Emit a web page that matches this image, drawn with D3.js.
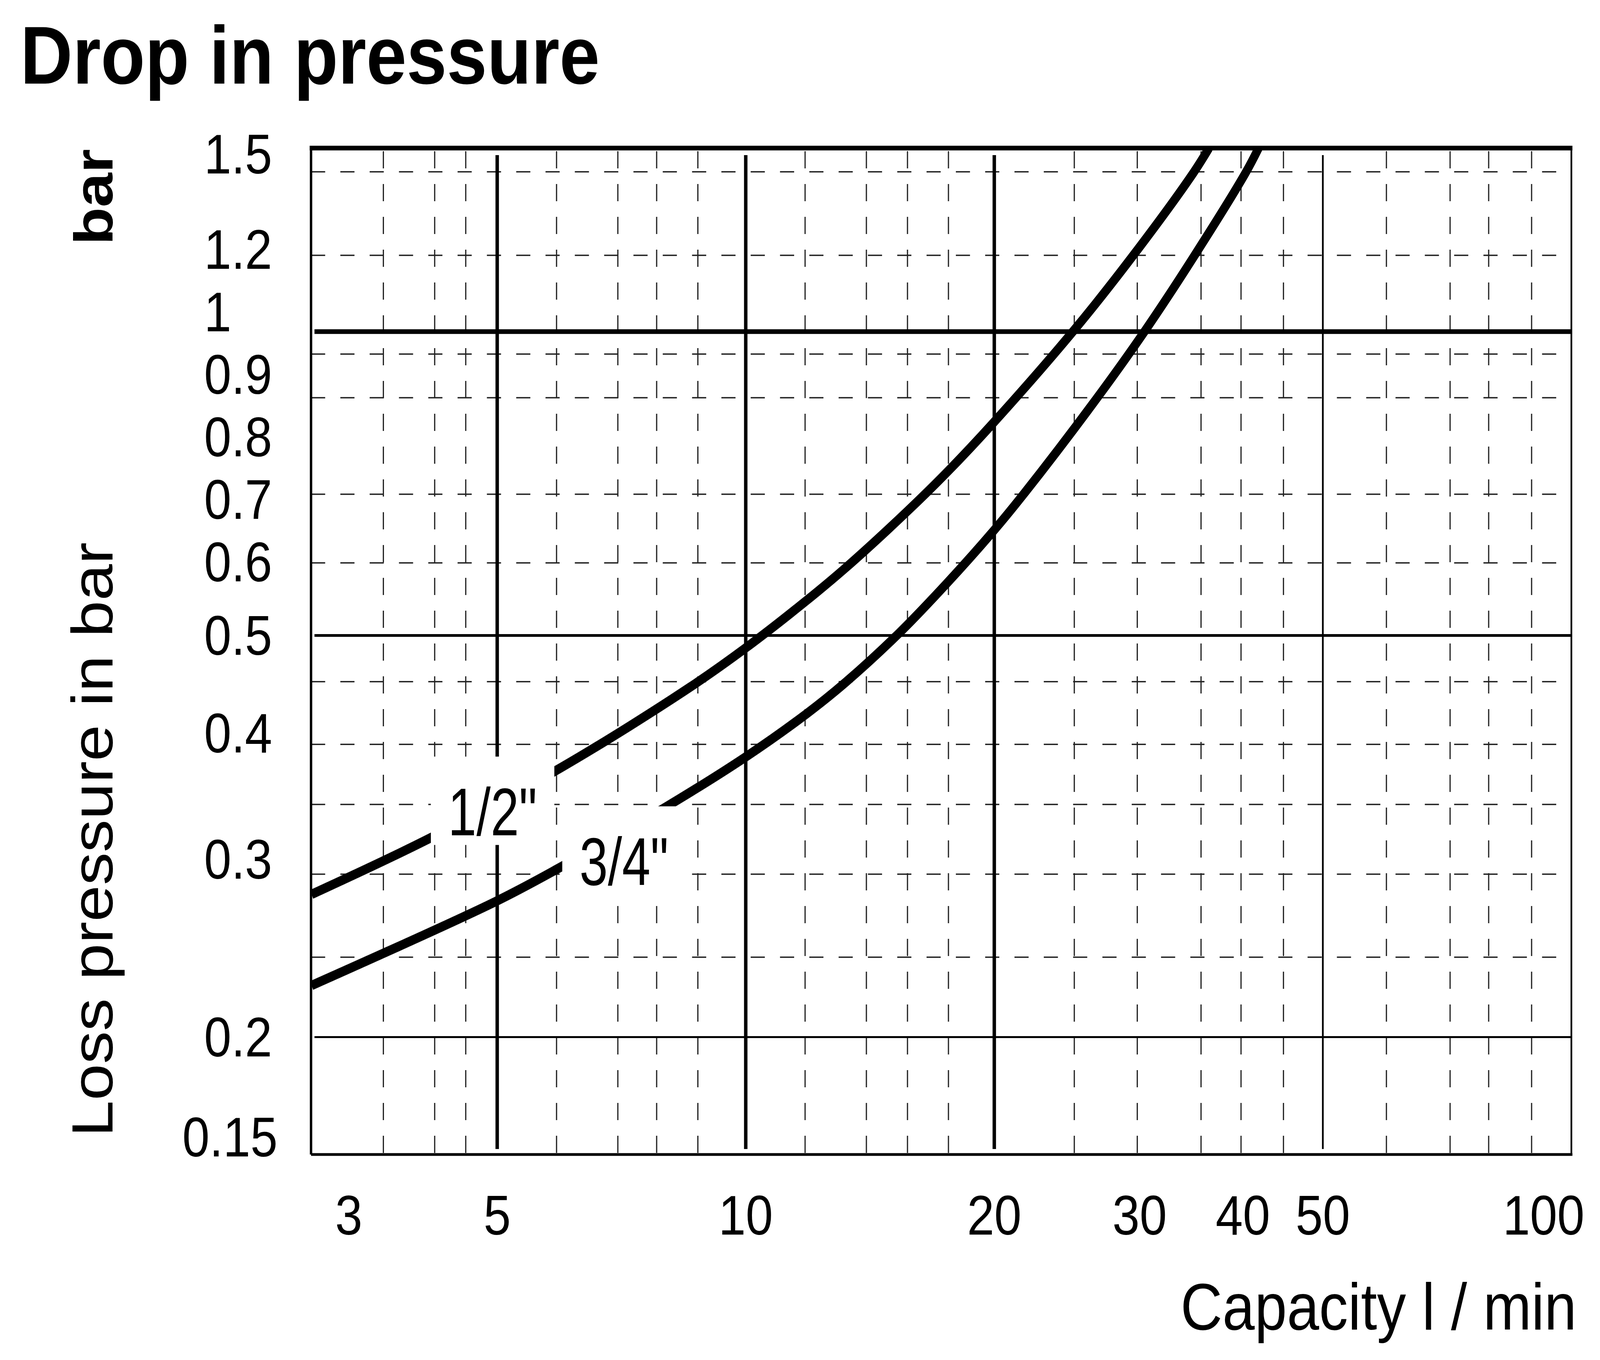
<!DOCTYPE html>
<html>
<head>
<meta charset="utf-8">
<script src="https://cdn.jsdelivr.net/npm/d3@7"></script>
<style>
	html, body { margin: 0; padding: 0; width: 100%; height: 100%; overflow: hidden; background: #fff; }
	svg { display: block; }
	text { font-family: "Liberation Sans", Arial, Helvetica, sans-serif; fill: #000; }
</style>
</head>
<body>
<script>
// _____________ data
var flowHalf   = [2.98, 4.15, 5.98, 8.55, 10, 11.8, 13.2, 15.7, 17.6, 20, 24.9, 29.4, 34.8, 36.4]
var dropHalf   = [0.277, 0.315, 0.37, 0.444, 0.486, 0.54, 0.583, 0.664, 0.728, 0.814, 1.0, 1.187, 1.434, 1.52]
var flowThreeQ = [2.98, 4.98, 5.98, 8.0, 10, 11.84, 13.2, 15.35, 17.55, 20, 21.7, 26.4, 30.4, 34.9, 40.3, 41.8]
var dropThreeQ = [0.225, 0.2725, 0.295, 0.338, 0.379, 0.418, 0.449, 0.503, 0.564, 0.636, 0.69, 0.851, 1.0, 1.187, 1.436, 1.52]
var seriesNames = ['1/2"', '3/4"']
var seriesLabelAt = [[4.36, 0.317], [6.29, 0.283]]

var xTicks = [3, 5, 10, 20, 30, 40, 50, 100]
var yTicks = [1.5, 1.2, 1, 0.9, 0.8, 0.7, 0.6, 0.5, 0.4, 0.3, 0.2, 0.15]
var xMajor = [5, 10, 20, 50]
var yMajor = [1, 0.5, 0.2]
var xMinor = [3.64, 4.2, 4.58, 5.9, 7, 7.8, 8.75, 11.8, 14, 15.7, 17.6, 25, 29.8, 35.6, 39.8, 44.8, 59.7, 71.3, 79.4, 89.5]
var yMinor = [1.44, 1.19, 0.95, 0.86, 0.69, 0.59, 0.45, 0.39, 0.34, 0.29, 0.24]
var xDomain = [2.975, 100]
var yDomain = [0.153, 1.52]

// _____________ layout (drawn in a 4640 x 3481 box, stretched onto the page)
var W = 4640, H = 3481
var plot = { left: 902, right: 4557, top: 379, bottom: 2955 }

var svg = d3.select('body')
	.append('svg')
		.attr('width', '100%')
		.attr('height', '100%')
		.attr('viewBox', '0 0 ' + W + ' ' + H)
		.attr('preserveAspectRatio', 'none')

svg.append('rect')
	.attr('width', W).attr('height', H)
	.attr('fill', '#fff')

var x = d3.scaleLog().domain(xDomain).range([plot.left, plot.right])
var y = d3.scaleLog().domain(yDomain).range([plot.bottom, plot.top])

// _____________ grid, dashed minor lines
var grid = svg.append('g').attr('class', 'grid')

grid.selectAll('line.xminor')
	.data(xMinor)
	.enter()
	.append('line')
		.attr('class', 'xminor')
		.attr('x1', function (d) { return x(d) })
		.attr('x2', function (d) { return x(d) })
		.attr('y1', plot.top + 8)
		.attr('y2', plot.bottom)
		.attr('stroke', '#222')
		.attr('stroke-width', 3.5)
		.attr('stroke-dasharray', '44,40')

grid.selectAll('line.yminor')
	.data(yMinor)
	.enter()
	.append('line')
		.attr('class', 'yminor')
		.attr('x1', plot.left)
		.attr('x2', plot.right)
		.attr('y1', function (d) { return y(d) })
		.attr('y2', function (d) { return y(d) })
		.attr('stroke', '#222')
		.attr('stroke-width', 3.5)
		.attr('stroke-dasharray', '41,44')

// _____________ grid, solid major lines
grid.selectAll('line.xmajor')
	.data(xMajor)
	.enter()
	.append('line')
		.attr('class', 'xmajor')
		.attr('x1', function (d) { return x(d) })
		.attr('x2', function (d) { return x(d) })
		.attr('y1', plot.top + 18)
		.attr('y2', plot.bottom - 14)
		.attr('stroke', '#000')
		.attr('stroke-width', function (d) { return d >= 50 ? 5 : 10 })

grid.selectAll('line.ymajor')
	.data(yMajor)
	.enter()
	.append('line')
		.attr('class', 'ymajor')
		.attr('x1', plot.left + 10)
		.attr('x2', plot.right)
		.attr('y1', function (d) { return y(d) })
		.attr('y2', function (d) { return y(d) })
		.attr('stroke', '#000')
		.attr('stroke-width', function (d) { return d >= 1 ? 12 : (d >= 0.5 ? 7 : 5) })

// frame: top heavy, others lighter
var frame = [
	[plot.left - 4, plot.top, plot.right + 3, plot.top, 12],
	[plot.left, plot.top, plot.left, plot.bottom, 7],
	[plot.left, plot.bottom, plot.right + 3, plot.bottom, 7],
	[plot.right, plot.top, plot.right, plot.bottom, 5]
]
grid.selectAll('line.frame')
	.data(frame)
	.enter()
	.append('line')
		.attr('class', 'frame')
		.attr('x1', function (d) { return d[0] })
		.attr('y1', function (d) { return d[1] })
		.attr('x2', function (d) { return d[2] })
		.attr('y2', function (d) { return d[3] })
		.attr('stroke', '#000')
		.attr('stroke-width', function (d) { return d[4] })

// _____________ curves
svg.append('clipPath')
		.attr('id', 'plotclip')
	.append('rect')
		.attr('x', plot.left)
		.attr('y', plot.top - 6)
		.attr('width', plot.right - plot.left)
		.attr('height', plot.bottom - plot.top + 6)

var series = [
	d3.zip(flowHalf, dropHalf),
	d3.zip(flowThreeQ, dropThreeQ)
]

var line = d3.line()
	.x(function (d) { return x(d[0]) })
	.y(function (d) { return y(d[1]) })
	.curve(d3.curveCatmullRom.alpha(0.5))

svg.append('g')
		.attr('clip-path', 'url(#plotclip)')
	.selectAll('path')
	.data(series)
	.enter()
	.append('path')
		.attr('d', line)
		.attr('fill', 'none')
		.attr('stroke', '#000')
		.attr('stroke-width', 24)

// _____________ curve labels (narrow face), on white patches that break lines
var labelSize = 172
var labels = svg.append('g').attr('class', 'labels')
seriesNames.forEach(function (name, i) {
	var tx = x(seriesLabelAt[i][0])
	var ty = y(seriesLabelAt[i][1])
	var patch = labels.append('rect').attr('fill', '#fff')
	var t = labels.append('text')
		.attr('x', tx)
		.attr('y', ty)
		.attr('font-size', labelSize)
		.text(name)
	var w = t.node().getComputedTextLength() * 0.86
	t.attr('textLength', w).attr('lengthAdjust', 'spacingAndGlyphs')
	var cap = labelSize * 0.716
	patch
		.attr('x', tx - 50)
		.attr('y', ty - cap - 78)
		.attr('width', w + 100)
		.attr('height', cap + 78 + 25)
})

// _____________ tick labels
var tickSize = 142

// y labels: spread crowded ones apart (clusters centred on their values)
var minGap = 160
var slots = yTicks.map(function (v) { return { v: v, target: y(v) } })
	.sort(function (a, b) { return a.target - b.target })
var clusters = slots.map(function (s) { return { items: [s], mean: s.target } })
function place(c) {
	var n = c.items.length
	var start = c.mean - (n - 1) * minGap / 2
	c.items.forEach(function (s, k) { s.pos = start + k * minGap })
}
clusters.forEach(place)
var merged = true
while (merged) {
	merged = false
	for (var k = 0; k < clusters.length - 1; k++) {
		var a = clusters[k], b = clusters[k + 1]
		var lastA = a.items[a.items.length - 1].pos
		var firstB = b.items[0].pos
		if (firstB - lastA < minGap) {
			var items = a.items.concat(b.items)
			var c = { items: items, mean: d3.mean(items, function (s) { return s.target }) }
			place(c)
			clusters.splice(k, 2, c)
			merged = true
			break
		}
	}
}
slots.forEach(function (s) { s.pos = Math.min(s.pos, plot.bottom - 45) })

var yLab = svg.append('g').attr('class', 'ylabels')
slots.forEach(function (s) {
	var t = yLab.append('text')
		.attr('y', s.pos)
		.attr('dy', '0.35em')
		.attr('font-size', tickSize)
		.text(String(s.v))
	var w = t.node().getComputedTextLength()
	t.attr('x', Math.min(592, 805 - w))
})

var xLab = svg.append('g').attr('class', 'xlabels')
xTicks.forEach(function (v) {
	var t = xLab.append('text')
		.attr('y', 3160)
		.attr('font-size', tickSize)
		.text(String(v))
	var w = t.node().getComputedTextLength()
	var left = x(v) - w / 2
	left = Math.max(left, plot.left + 70)
	left = Math.min(left, 4595 - w)
	t.attr('x', left)
})

// _____________ titles
svg.append('text')
	.attr('x', 59)
	.attr('y', 214)
	.attr('font-size', 210)
	.attr('font-weight', 'bold')
	.text('Drop in pressure')

svg.append('text')
	.attr('transform', 'translate(326,2910) rotate(-90)')
	.attr('font-size', 168)
	.text('Loss pressure in bar')

svg.append('text')
	.attr('transform', 'translate(326,627) rotate(-90)')
	.attr('font-size', 158)
	.attr('font-weight', 'bold')
	.text('bar')

svg.append('text')
	.attr('x', 4572)
	.attr('y', 3403)
	.attr('text-anchor', 'end')
	.attr('font-size', 168)
	.text('Capacity l / min')
</script>
</body>
</html>
